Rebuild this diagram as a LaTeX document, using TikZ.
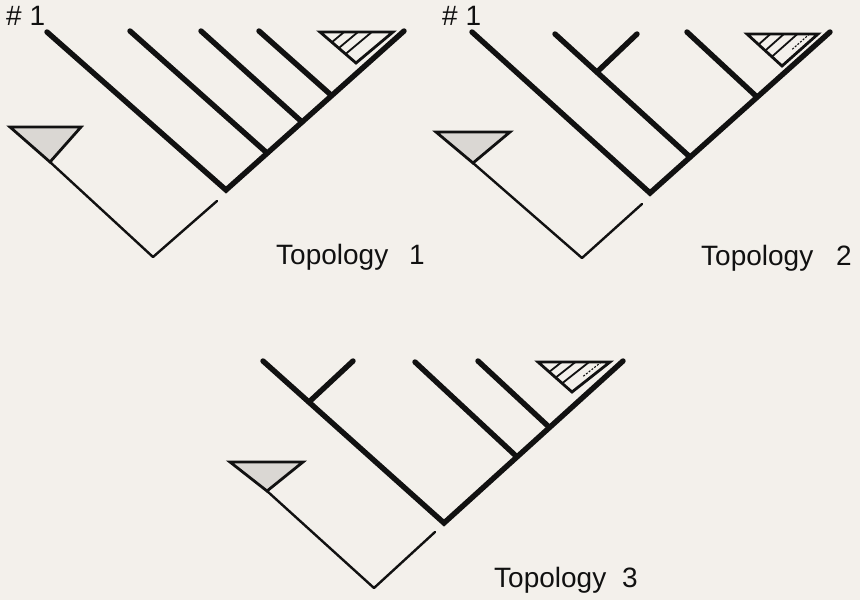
\documentclass[tikz,border=0pt]{standalone}
\usepackage{fontspec}
\setmainfont{Liberation Sans}
\usetikzlibrary{calc}
\definecolor{bg}{HTML}{F3F0EB}
\definecolor{ink}{HTML}{111111}
\definecolor{stip}{HTML}{DAD7D3}
\tikzset{
  thickbr/.style={draw=ink,line width=5.4pt,line cap=round},
  thinbr/.style={draw=ink,line width=2.4pt,line cap=round,line join=round},
  tri/.style={draw=ink,line width=2.8pt,line join=miter},
  graytri/.style={tri,fill=stip},
  hatchln/.style={draw=ink,line width=1.8pt},
  hatchdot/.style={draw=ink,line width=1.1pt,dash pattern=on 2pt off 1.5pt},
  lab/.style={font=\fontsize{28}{30}\selectfont,inner sep=0pt,anchor=base west,text=ink},
}
% #1 prefix, #2 left corner, #3 right corner, #4 apex
\newcommand\myhatchtri[4]{%
  \coordinate (#1l) at #2; \coordinate (#1r) at #3; \coordinate (#1a) at #4;
  \begin{scope}
    \clip (#1l) -- (#1r) -- (#1a) -- cycle;
    \foreach \f in {0.33,0.52,0.71}
      \draw[hatchln] ($(#1l)!\f!(#1r)$) -- ++($2*(#1a)-2*(#1r)$);
  \end{scope}
  \draw[tri] (#1l) -- (#1r) -- (#1a) -- cycle;
}
\begin{document}
\begin{tikzpicture}[x=1pt,y=-1pt]
\fill[bg] (0,0) rectangle (860,600);
\useasboundingbox (0,0) rectangle (860,600);

% ---------------- Topology 1 ----------------
\node[lab] (h1) at (6,25) {\# 1};
\coordinate (p1V) at (153,257);
\coordinate (p1E) at (217,201);
\coordinate (p1G1) at (10,127);
\coordinate (p1G2) at (81,127);
\coordinate (p1Ga) at (50,162);
\draw[thinbr] (p1Ga) -- (p1V) -- (p1E);
\draw[graytri] (p1G1) -- (p1G2) -- (p1Ga) -- cycle;
\coordinate (p1A1) at (47,32);
\coordinate (p1J0) at (226,190);
\coordinate (p1R) at (404,31);
\coordinate (p1A2) at (130,31);
\coordinate (p1J2) at (267,153);
\coordinate (p1A3) at (201,31);
\coordinate (p1J3) at (302,122);
\coordinate (p1A4) at (259,31);
\coordinate (p1J4) at (331,95);
\draw[thickbr,line join=miter] (p1A1) -- (p1J0) -- (p1R);
\draw[thickbr] (p1A2) -- (p1J2);
\draw[thickbr] (p1A3) -- (p1J3);
\draw[thickbr] (p1A4) -- (p1J4);
\myhatchtri{p1H}{(320,32)}{(393,32)}{(356,63)}
\node[lab] (t1a) at (276,264) {Topology};
\node[lab] (t1b) at (409,264) {1};

% ---------------- Topology 2 ----------------
\node[lab] (h2) at (442,25) {\# 1};
\coordinate (p2V) at (582,258);
\coordinate (p2E) at (642,204);
\coordinate (p2G1) at (436,132);
\coordinate (p2G2) at (510,132);
\coordinate (p2Ga) at (473,163);
\draw[thinbr] (p2Ga) -- (p2V) -- (p2E);
\draw[graytri] (p2G1) -- (p2G2) -- (p2Ga) -- cycle;
\coordinate (p2A1) at (472,32);
\coordinate (p2J0) at (650,193);
\coordinate (p2R) at (830,32);
\coordinate (p2A2) at (555,34);
\coordinate (p2J2) at (690,157);
\coordinate (p2K) at (597,72);
\coordinate (p2B) at (637,34);
\coordinate (p2A3) at (687,32);
\coordinate (p2J3) at (757,97);
\draw[thickbr,line join=miter] (p2A1) -- (p2J0) -- (p2R);
\draw[thickbr] (p2A2) -- (p2J2);
\draw[thickbr] (p2K) -- (p2B);
\draw[thickbr] (p2A3) -- (p2J3);
\myhatchtri{p2H}{(747,34)}{(818,34)}{(782,66)}
\draw[hatchdot] ($(p2Hl)!0.88!(p2Hr)$) -- ++($0.5*(p2Ha)-0.5*(p2Hr)$);
\node[lab] (t2a) at (701,265) {Topology};
\node[lab] (t2b) at (836,265) {2};

% ---------------- Topology 3 ----------------
\coordinate (p3V) at (374,588);
\coordinate (p3E) at (435,532);
\coordinate (p3G1) at (230,462);
\coordinate (p3G2) at (303,462);
\coordinate (p3Ga) at (267,491);
\draw[thinbr] (p3Ga) -- (p3V) -- (p3E);
\draw[graytri] (p3G1) -- (p3G2) -- (p3Ga) -- cycle;
\coordinate (p3A1) at (263,361);
\coordinate (p3J0) at (444,523);
\coordinate (p3R) at (623,361);
\coordinate (p3K) at (309,402);
\coordinate (p3B) at (353,361);
\coordinate (p3A2) at (415,362);
\coordinate (p3J2) at (516,456);
\coordinate (p3A3) at (478,361);
\coordinate (p3J3) at (549,427);
\draw[thickbr,line join=miter] (p3A1) -- (p3J0) -- (p3R);
\draw[thickbr] (p3K) -- (p3B);
\draw[thickbr] (p3A2) -- (p3J2);
\draw[thickbr] (p3A3) -- (p3J3);
\myhatchtri{p3H}{(538,362)}{(610,362)}{(572,392)}
\draw[hatchdot] ($(p3Hl)!0.88!(p3Hr)$) -- ++($0.5*(p3Ha)-0.5*(p3Hr)$);
\node[lab] (t3a) at (494,587) {Topology};
\node[lab] (t3b) at (622,587) {3};
\end{tikzpicture}
\end{document}
